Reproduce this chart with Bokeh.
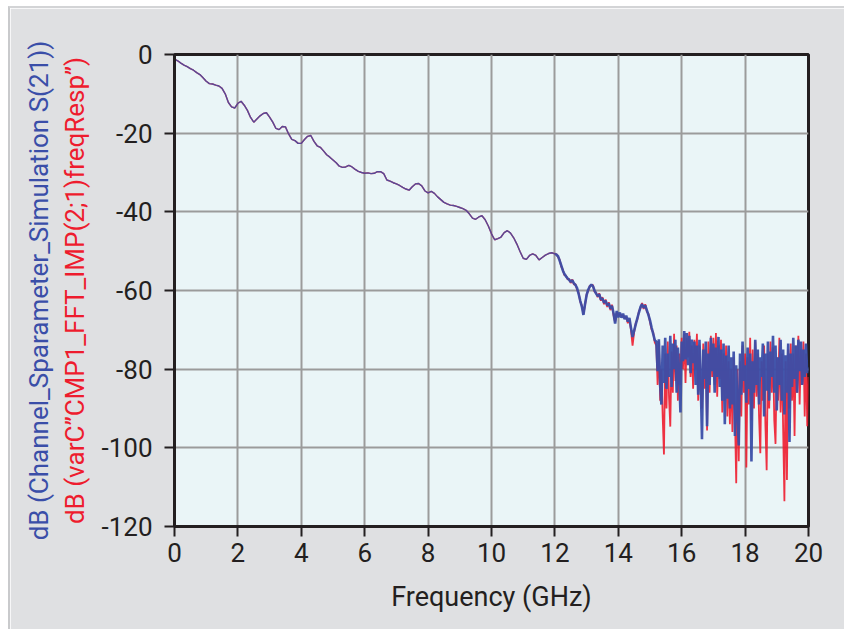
import numpy as np
from bokeh.plotting import figure
from bokeh.models import Range1d, FixedTicker, LinearAxis
from bokeh.embed import file_html
from bokeh.resources import INLINE

# ---------------- data ----------------
# 0 .. 12 GHz, step 0.1 GHz: both traces coincide
smooth_db = [
    -1.2, -1.6, -2.2, -2.7, -3.1, -3.6, -4.0, -4.6, -5.1, -5.9,
    -6.8, -7.4, -7.5, -7.8, -8.0, -8.6, -10.0, -12.2, -13.3, -13.6,
    -12.4, -11.9, -12.9, -14.2, -16.0, -17.2, -16.4, -15.6, -15.0, -14.8,
    -15.9, -17.2, -18.8, -19.1, -18.3, -18.4, -20.2, -21.6, -21.9, -22.6,
    -22.6, -21.6, -20.8, -20.6, -22.1, -23.2, -23.6, -24.5, -25.5, -26.1,
    -26.8, -27.5, -28.4, -28.7, -28.6, -28.2, -28.6, -29.2, -29.7, -30.0,
    -30.2, -30.1, -30.3, -30.2, -29.8, -29.8, -30.3, -31.9, -32.2, -32.6,
    -32.9, -33.3, -33.8, -34.2, -34.5, -33.6, -32.9, -32.8, -33.4, -34.7,
    -35.2, -34.8, -35.3, -36.2, -36.9, -37.6, -38.0, -38.3, -38.4, -38.6,
    -38.9, -39.2, -39.6, -40.5, -41.6, -41.9, -41.3, -41.0, -42.0, -43.6,
    -45.6, -47.1, -46.8, -46.4, -45.3, -44.8, -45.4, -46.6, -48.2, -50.1,
    -51.8, -52.1, -51.1, -50.7, -51.1, -52.2, -51.6, -51.0, -50.6, -50.4,
    -50.7,
]

# 12.05 .. 15.15 GHz, step 0.05 GHz
blue_mid_db = [
    -50.9, -51.3, -52.4, -53.6, -54.9, -55.8, -56.4, -56.9, -57.3, -57.8,
    -57.4, -58.2, -58.6, -59.4, -60.9, -62.6, -64.1, -66.2, -63.5, -61.2,
    -59.8, -59.0, -58.5, -58.9, -60.0, -60.8, -61.4, -61.0, -62.3, -62.0,
    -63.1, -62.6, -63.8, -63.3, -64.6, -63.9, -65.8, -68.4, -65.2, -66.8,
    -65.6, -66.9, -65.9, -67.3, -66.4, -67.9, -67.0, -69.5, -71.8, -70.2,
    -68.6, -67.1, -65.6, -64.2, -63.5, -64.4, -63.8, -65.0, -66.2, -67.6,
    -69.4, -71.0, -72.6,
]
red_mid_db = [
    -50.8, -51.5, -52.2, -53.9, -54.7, -56.1, -56.2, -57.2, -57.0, -58.1,
    -57.2, -58.5, -58.4, -59.8, -60.6, -62.9, -63.8, -66.0, -63.8, -61.0,
    -60.1, -58.8, -58.7, -58.6, -60.3, -60.5, -61.7, -60.7, -62.6, -61.7,
    -63.5, -62.3, -64.2, -63.0, -65.0, -63.6, -66.3, -68.0, -65.6, -66.4,
    -66.0, -66.5, -66.3, -67.0, -66.8, -68.3, -67.4, -70.0, -74.0, -70.6,
    -68.3, -67.4, -65.3, -64.5, -63.2, -64.7, -63.5, -65.4, -65.9, -68.0,
    -69.9, -70.6, -73.2,
]

# 15.20 .. 20.00 GHz, step 0.04 GHz (noise floor)
blue_noise_db = [
    -73.0, -80.5, -72.4, -84.0, -89.0, -74.0, -83.5, -72.0, -85.0, -76.0,
    -82.0, -71.5, -84.5, -73.5, -80.0, -72.5, -86.0, -74.5, -81.0, -91.0,
    -73.0, -78.0, -70.3, -77.5, -70.8, -79.0, -71.5, -81.0, -72.5, -78.5,
    -73.0, -84.0, -74.0, -86.5, -72.5, -83.0, -97.8, -75.0, -82.5, -73.0,
    -94.5, -76.0, -84.0, -72.0, -80.5, -73.5, -86.0, -74.5, -82.0, -71.8,
    -84.5, -75.0, -88.0, -73.5, -94.0, -76.5, -87.5, -74.0, -90.0, -77.0,
    -89.0, -75.5, -97.0, -79.0, -91.0, -99.4, -76.0, -86.5, -73.0, -83.0,
    -79.0, -88.5, -74.5, -85.0, -76.0, -103.5, -78.0, -86.0, -72.5, -84.0,
    -75.0, -89.0, -77.0, -82.0, -73.5, -92.0, -76.0, -85.5, -73.0, -88.0,
    -75.5, -82.0, -71.5, -86.0, -74.0, -90.5, -77.0, -84.0, -72.5, -88.0,
    -75.0, -91.5, -76.5, -86.0, -73.5, -98.5, -76.0, -84.5, -72.0, -82.5,
    -74.0, -86.0, -72.5, -80.5, -73.0, -84.0, -75.0, -82.0, -73.5, -81.0,
    -79.5,
]
red_noise_db = [
    -74.0, -84.0, -73.0, -88.0, -80.0, -92.0, -101.7, -76.0, -90.0, -73.0,
    -87.0, -94.6, -75.5, -86.0, -71.0, -83.0, -74.0, -88.0, -76.0, -84.0,
    -72.0, -80.0, -71.0, -83.5, -72.0, -77.0, -70.5, -82.0, -74.0, -85.0,
    -72.5, -80.0, -71.0, -88.0, -74.0, -84.0, -90.0, -73.5, -85.0, -75.0,
    -95.6, -73.0, -86.0, -71.5, -82.0, -72.0, -84.0, -70.8, -87.0, -74.0,
    -82.5, -72.5, -91.0, -76.0, -88.0, -74.0, -92.0, -78.0, -94.0, -80.0,
    -96.0, -77.0, -92.0, -109.0, -80.0, -103.4, -78.0, -92.0, -74.0, -86.0,
    -76.0, -105.0, -77.0, -89.0, -72.0, -93.0, -75.0, -90.0, -73.0, -87.0,
    -76.0, -92.0, -101.4, -78.0, -88.0, -74.0, -94.0, -105.7, -76.0, -90.0,
    -73.0, -86.0, -74.5, -93.0, -99.0, -77.0, -88.0, -72.0, -91.0, -76.0,
    -95.0, -113.6, -78.0, -108.2, -75.0, -90.0, -73.5, -88.0, -76.0, -97.0,
    -74.0, -86.0, -71.5, -89.0, -75.0, -84.0, -73.0, -92.0, -76.0, -94.5,
    -82.0,
]

x_ticks = [0, 2, 4, 6, 8, 10, 12, 14, 16, 18, 20]
y_ticks = [0, -20, -40, -60, -80, -100, -120]
x_title = "Frequency (GHz)"
y_title_blue = "dB (Channel_Sparameter_Simulation S(21))"
y_title_red = "dB (varC\u201dCMP1_FFT_IMP(2;1)freqResp\u201d)"

# sampling grids (GHz)
f_smooth = np.round(np.arange(len(smooth_db)) * 0.1, 3)
f_mid = np.round(12.05 + np.arange(len(blue_mid_db)) * 0.05, 3)
f_noise = np.round(15.20 + np.arange(len(blue_noise_db)) * 0.04, 3)

f_rough = np.concatenate([[f_smooth[-1]], f_mid, f_noise])
blue_rough = np.concatenate([[smooth_db[-1]], blue_mid_db, blue_noise_db])
red_rough = np.concatenate([[smooth_db[-1]], red_mid_db, red_noise_db])

# ---------------- styling ----------------
FONT = "Roboto"
PANEL = "#dfe0e2"
INK = "#231f20"
BLUE = "#3a4ea8"
RED = "#ee1c2e"

p = figure(
    width=836, height=623,
    x_range=Range1d(0, 20), y_range=Range1d(-120, 0),
    output_backend="svg", toolbar_location=None,
    min_border_left=164, min_border_right=38,
    min_border_top=46, min_border_bottom=105,
)
p.styles = {"margin-left": "8px", "margin-top": "6px",
            "border-left": "2px solid #c9cacc", "border-top": "2px solid #d3d4d6"}

p.background_fill_color = "#eaf5f7"
p.border_fill_color = PANEL
p.outline_line_color = INK
p.outline_line_width = 3

p.xaxis.ticker = FixedTicker(ticks=x_ticks)
p.yaxis.ticker = FixedTicker(ticks=y_ticks)
p.yaxis.major_label_overrides = {t: str(t) for t in y_ticks}
for ax in (p.xaxis[0], p.yaxis[0]):
    ax.axis_line_color = INK
    ax.axis_line_width = 3
    ax.major_tick_line_color = INK
    ax.major_tick_line_width = 2
    ax.major_tick_in = 0
    ax.major_tick_out = 10
    ax.minor_tick_line_color = None
    ax.major_label_text_font = FONT
    ax.major_label_text_font_size = "26px"
    ax.major_label_text_color = INK
p.xaxis.major_label_standoff = 6
p.yaxis.major_label_standoff = 12
p.xaxis.axis_label = x_title
p.xaxis.axis_label_text_font = FONT
p.xaxis.axis_label_text_font_size = "27px"
p.xaxis.axis_label_text_font_style = "normal"
p.xaxis.axis_label_text_color = INK
p.xaxis.axis_label_standoff = 16

# red y title sits on the tick axis, blue one on an outer blank axis
p.yaxis.axis_label = y_title_red
p.yaxis.axis_label_text_font = FONT
p.yaxis.axis_label_text_font_size = "26px"
p.yaxis.axis_label_text_font_style = "normal"
p.yaxis.axis_label_text_color = RED
p.yaxis.axis_label_standoff = 8

outer = LinearAxis(ticker=FixedTicker(ticks=[]), axis_label=y_title_blue)
outer.axis_line_color = None
outer.major_tick_line_color = None
outer.minor_tick_line_color = None
outer.major_label_text_font_size = "0px"
outer.axis_label_text_font = FONT
outer.axis_label_text_font_size = "26px"
outer.axis_label_text_font_style = "normal"
outer.axis_label_text_color = BLUE
outer.axis_label_standoff = 4
p.add_layout(outer, "left")

p.grid.grid_line_color = "#9b9b9b"
p.grid.grid_line_width = 2

p.line(f_smooth, smooth_db, line_color=RED, line_width=1.4, line_alpha=0.9)
p.line(f_smooth, smooth_db, line_color=BLUE, line_width=1.4, line_alpha=0.85)
p.line(f_rough, red_rough, line_color=RED, line_width=1.8, line_alpha=0.9)
p.line(f_rough, blue_rough, line_color=BLUE, line_width=2.6, line_alpha=0.95)

open("out.html", "w").write(file_html(p, INLINE))
